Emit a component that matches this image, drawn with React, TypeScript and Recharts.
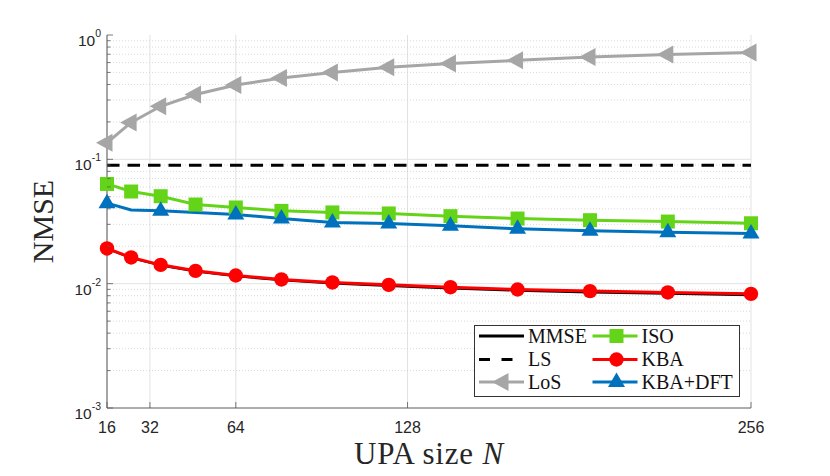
import React from 'react';
import {
  LineChart,
  Line,
  XAxis,
  YAxis,
  CartesianGrid,
  ReferenceLine,
  Legend,
} from 'recharts';

// UPA sizes (N = 4^2 ... 16^2)
const upaSizes = [16, 25, 36, 49, 64, 81, 100, 121, 144, 169, 196, 225, 256];

// NMSE per estimator
const mmseValues = [0.0191, 0.0161, 0.0140, 0.01255, 0.0115, 0.01065, 0.01005, 0.0096, 0.00918, 0.0088, 0.00852, 0.00831, 0.0081];
const lsValues = [0.0897, 0.0897, 0.0897, 0.0897, 0.0897, 0.0897, 0.0897, 0.0897, 0.0897, 0.0897, 0.0897, 0.0897, 0.0897];
const losValues = [0.136, 0.198, 0.267, 0.332, 0.396, 0.451, 0.499, 0.55, 0.591, 0.626, 0.666, 0.696, 0.722];
const isoValues = [0.0634, 0.0551, 0.0505, 0.0433, 0.041, 0.0385, 0.0374, 0.0367, 0.0349, 0.0334, 0.0324, 0.0316, 0.0306];
const kbaValues = [0.0192, 0.01625, 0.01417, 0.01268, 0.01164, 0.01081, 0.01023, 0.00978, 0.00937, 0.00898, 0.00871, 0.0085, 0.00828];
const dftValues = [0.0444, 0.0392, 0.0385, 0.0374, 0.036, 0.0334, 0.031, 0.0305, 0.0292, 0.0276, 0.0266, 0.0259, 0.0253];

// KBA+DFT markers are not drawn at every point
const dftMarkedSizes = [16, 36, 64, 81, 100, 121, 144, 169, 196, 225, 256];

// axis ticks
const xTicks = [16, 32, 64, 128, 256];
const yMajorTicks = [0.001, 0.01, 0.1, 1];
const yMinorTicks = [
  0.002, 0.003, 0.004, 0.005, 0.006, 0.007, 0.008, 0.009,
  0.02, 0.03, 0.04, 0.05, 0.06, 0.07, 0.08, 0.09,
  0.2, 0.3, 0.4, 0.5, 0.6, 0.7, 0.8, 0.9,
];
const yAllTicks = [...yMajorTicks, ...yMinorTicks].sort((a, b) => a - b);

const rows = upaSizes.map((n, i) => ({
  n,
  mmse: mmseValues[i],
  ls: lsValues[i],
  los: losValues[i],
  iso: isoValues[i],
  kba: kbaValues[i],
  dft: dftValues[i],
}));

const COLORS = {
  mmse: '#000000',
  ls: '#000000',
  los: '#A6A6A6',
  iso: '#64D419',
  kba: '#FF0000',
  dft: '#0072BD',
};

const TICK_FONT = '"Liberation Sans", Arial, sans-serif';
const SERIF_FONT = '"Liberation Serif", "Times New Roman", serif';
const AXIS_COLOR = '#5a5a5a';

type MarkerKind = 'square' | 'circle' | 'tri-up' | 'tri-left';

// triangles are placed by their centroid, like MATLAB does
const Marker = ({ kind, cx, cy, color }: { kind: MarkerKind; cx: number; cy: number; color: string }) => {
  if (cx == null || cy == null) return null;
  switch (kind) {
    case 'square':
      return <rect x={cx - 7} y={cy - 7} width={14} height={14} fill={color} />;
    case 'circle':
      return <circle cx={cx} cy={cy} r={7.2} fill={color} />;
    case 'tri-up':
      return <polygon points={`${cx},${cy - 9.5} ${cx - 8.5},${cy + 5} ${cx + 8.5},${cy + 5}`} fill={color} />;
    case 'tri-left':
      return <polygon points={`${cx - 11},${cy} ${cx + 5.5},${cy - 9} ${cx + 5.5},${cy + 9}`} fill={color} />;
  }
  return null;
};

const makeDot = (kind: MarkerKind, color: string, only?: number[]) => (props: any) => {
  const { cx, cy, index, payload } = props;
  if (only && !only.includes(payload.n)) return <g key={`d-${kind}-${index}`} />;
  return (
    <g key={`d-${kind}-${index}`}>
      <Marker kind={kind} cx={cx} cy={cy} color={color} />
    </g>
  );
};

// y ticks: inward tick marks, labels 10^k on the left side only
const YTick = (props: any) => {
  const { x, y, payload, side } = props;
  const v = payload.value;
  const major = yMajorTicks.includes(v);
  const len = major ? 6 : 3.5;
  const dir = side === 'left' ? 1 : -1;
  const exp = Math.round(Math.log10(v));
  return (
    <g>
      <line x1={x} y1={y} x2={x + dir * len} y2={y} stroke={AXIS_COLOR} strokeWidth={0.8} />
      {side === 'left' && major && (
        <text x={x - 6} y={y + 11} textAnchor="end" fill="#262626" fontFamily={TICK_FONT} fontSize={15.5}>
          <tspan>10</tspan>
          <tspan dy={-9} fontSize={10.5}>{exp}</tspan>
        </text>
      )}
    </g>
  );
};

const XTick = (props: any) => {
  const { x, y, payload, side } = props;
  const dir = side === 'bottom' ? -1 : 1;
  return (
    <g>
      <line x1={x} y1={y} x2={x} y2={y + dir * 6} stroke={AXIS_COLOR} strokeWidth={0.8} />
      {side === 'bottom' && (
        <text x={x} y={y + 25} textAnchor="middle" fill="#262626" fontFamily={TICK_FONT} fontSize={16}>
          {payload.value}
        </text>
      )}
    </g>
  );
};

const legendItems = [
  { name: 'MMSE', color: COLORS.mmse, dash: undefined, marker: null, col: 0, row: 0 },
  { name: 'LS', color: COLORS.ls, dash: '11 11.5', marker: null, col: 0, row: 1 },
  { name: 'LoS', color: COLORS.los, dash: undefined, marker: 'tri-left', col: 0, row: 2 },
  { name: 'ISO', color: COLORS.iso, dash: undefined, marker: 'square', col: 1, row: 0 },
  { name: 'KBA', color: COLORS.kba, dash: undefined, marker: 'circle', col: 1, row: 1 },
  { name: 'KBA+DFT', color: COLORS.dft, dash: undefined, marker: 'tri-up', col: 1, row: 2 },
];

const LegendBox = () => {
  const colX = [5, 118.5];
  const rowY = [11, 34.5, 57];
  return (
    <svg width={266} height={72} style={{ display: 'block' }}>
      <rect x={0.5} y={0.5} width={265} height={71} fill="#fff" stroke="#333" strokeWidth={1} />
      {legendItems.map((it) => {
        const x0 = colX[it.col];
        const y0 = rowY[it.row];
        return (
          <g key={it.name}>
            <line
              x1={x0}
              y1={y0}
              x2={x0 + 45}
              y2={y0}
              stroke={it.color}
              strokeWidth={3}
              strokeDasharray={it.dash}
            />
            {it.marker && <Marker kind={it.marker as MarkerKind} cx={x0 + 24} cy={y0} color={it.color} />}
            <text x={x0 + 49} y={y0 + 6.8} fontFamily={SERIF_FONT} fontSize={20} fill="#111">
              {it.name}
            </text>
          </g>
        );
      })}
    </svg>
  );
};

export default function App() {
  return (
    <div style={{ position: 'absolute', left: 0, top: 0, width: 830, height: 476, background: '#fff' }}>
      <LineChart width={830} height={476} data={rows} margin={{ top: 35, right: 79, bottom: 0, left: 0 }}>
        <CartesianGrid horizontal={false} stroke="#E2E2E2" strokeWidth={1} />
        {yMinorTicks.map((v) => (
          <ReferenceLine key={`minor-${v}`} y={v} stroke="#CFCFCF" strokeWidth={0.8} strokeDasharray="1 2" />
        ))}
        {yMajorTicks
          .filter((v) => v > 0.001 && v < 1)
          .map((v) => (
            <ReferenceLine key={`major-${v}`} y={v} stroke="#E2E2E2" strokeWidth={1} />
          ))}
        <XAxis
          dataKey="n"
          type="number"
          domain={[16, 256]}
          ticks={xTicks}
          interval={0}
          height={68}
          tickSize={0}
          tickMargin={0}
          tick={<XTick side="bottom" />}
          axisLine={{ stroke: AXIS_COLOR, strokeWidth: 1 }}
          label={(p: any) => {
            const vb = p.viewBox;
            return (
              <text
                x={vb.x + vb.width / 2}
                y={464}
                textAnchor="middle"
                fontFamily={SERIF_FONT}
                fontSize={31}
                letterSpacing={0.8}
                fill="#262626"
              >
                UPA size <tspan fontStyle="italic">N</tspan>
              </text>
            );
          }}
        />
        <XAxis
          xAxisId="top"
          orientation="top"
          dataKey="n"
          type="number"
          domain={[16, 256]}
          ticks={xTicks}
          interval={0}
          height={0}
          tickSize={0}
          tickMargin={0}
          tick={<XTick side="top" />}
          axisLine={{ stroke: AXIS_COLOR, strokeWidth: 1 }}
        />
        <YAxis
          scale="log"
          domain={[0.001, 1]}
          allowDataOverflow
          ticks={yAllTicks}
          interval={0}
          width={107}
          tickSize={0}
          tickMargin={0}
          tick={<YTick side="left" />}
          axisLine={{ stroke: AXIS_COLOR, strokeWidth: 1 }}
          label={(p: any) => {
            const vb = p.viewBox;
            const cy = vb.y + vb.height / 2;
            return (
              <text
                x={53}
                y={cy}
                transform={`rotate(-90, 53, ${cy})`}
                textAnchor="middle"
                fontFamily={SERIF_FONT}
                fontSize={30}
                fill="#262626"
              >
                NMSE
              </text>
            );
          }}
        />
        <YAxis
          yAxisId="r"
          orientation="right"
          scale="log"
          domain={[0.001, 1]}
          allowDataOverflow
          ticks={yAllTicks}
          interval={0}
          width={0}
          tickSize={0}
          tickMargin={0}
          tick={<YTick side="right" />}
          axisLine={{ stroke: AXIS_COLOR, strokeWidth: 1 }}
        />
        <Line dataKey="mmse" name="MMSE" stroke={COLORS.mmse} strokeWidth={2.2} dot={false} isAnimationActive={false} />
        <Line dataKey="ls" name="LS" stroke={COLORS.ls} strokeWidth={3} strokeDasharray="12.5 8" dot={false} isAnimationActive={false} />
        <Line dataKey="los" name="LoS" stroke={COLORS.los} strokeWidth={3} dot={makeDot('tri-left', COLORS.los)} isAnimationActive={false} />
        <Line dataKey="iso" name="ISO" stroke={COLORS.iso} strokeWidth={3} dot={makeDot('square', COLORS.iso)} isAnimationActive={false} />
        <Line dataKey="kba" name="KBA" stroke={COLORS.kba} strokeWidth={3} dot={makeDot('circle', COLORS.kba)} isAnimationActive={false} />
        <Line
          dataKey="dft"
          name="KBA+DFT"
          stroke={COLORS.dft}
          strokeWidth={3}
          dot={makeDot('tri-up', COLORS.dft, dftMarkedSizes)}
          isAnimationActive={false}
        />
        <Legend
          layout="vertical"
          align="center"
          verticalAlign="middle"
          wrapperStyle={{ position: 'absolute', left: 474, top: 325, width: 266, height: 72 }}
          content={() => <LegendBox />}
        />
      </LineChart>
    </div>
  );
}
